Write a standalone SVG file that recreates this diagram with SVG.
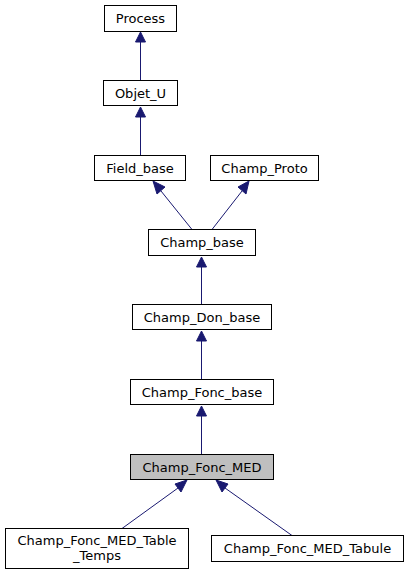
<svg xmlns="http://www.w3.org/2000/svg" width="408" height="575" viewBox="0 0 408 575">
<style>
.n rect{fill:#fff;stroke:#000;stroke-width:1}
.n text{font-family:"DejaVu Sans",sans-serif;font-size:13px;fill:#000;text-anchor:middle}
.e path{fill:none;stroke:#191970;stroke-width:1}
.e polygon{fill:#191970;stroke:#191970;stroke-width:1}
</style>
<rect width="408" height="575" fill="#fff"/>
<g class="e" id="edges">
<path d="M140.5,80.5 V42"/><polygon points="135.5,42 140.5,32 145.5,42"/>
<path d="M140.5,155.5 V117"/><polygon points="135.5,117 140.5,107 145.5,117"/>
<path d="M192,229.5 L161,191"/><polygon points="157,194 153,181 165,187"/>
<path d="M212,229.5 L242,191"/><polygon points="238,187 249,181 246,194"/>
<path d="M201.5,304.5 V267"/><polygon points="196.5,267 201.5,257 206.5,267"/>
<path d="M201.5,379.5 V341"/><polygon points="196.5,341 201.5,331 206.5,341"/>
<path d="M201.5,454.5 V416"/><polygon points="196.5,416 201.5,406 206.5,416"/>
<path d="M122,528.5 L178,488"/><polygon points="175,484 187,480 181,492"/>
<path d="M292,535.5 L225,488"/><polygon points="222,492 216,480 228,484"/>
</g>
<g class="n" id="Process"><rect x="104.5" y="5.5" width="72" height="26"/><text x="140.5" y="22.5">Process</text></g>
<g class="n" id="Objet_U"><rect x="103.5" y="80.5" width="74" height="25"/><text x="140.5" y="97.5">Objet_U</text></g>
<g class="n" id="Field_base"><rect x="94.5" y="155.5" width="91" height="25"/><text x="140" y="172.5">Field_base</text></g>
<g class="n" id="Champ_Proto"><rect x="210.5" y="155.5" width="108" height="25"/><text x="264.5" y="172.5">Champ_Proto</text></g>
<g class="n" id="Champ_base"><rect x="148.5" y="229.5" width="107" height="26"/><text x="202" y="246.5">Champ_base</text></g>
<g class="n" id="Champ_Don_base"><rect x="132.5" y="304.5" width="139" height="25"/><text x="202" y="321.5">Champ_Don_base</text></g>
<g class="n" id="Champ_Fonc_base"><rect x="130.5" y="379.5" width="143" height="25"/><text x="202" y="396.5">Champ_Fonc_base</text></g>
<g class="n" id="Champ_Fonc_MED"><rect x="130.5" y="454.5" width="143" height="25" style="fill:#bfbfbf"/><text x="202" y="471.5">Champ_Fonc_MED</text></g>
<g class="n" id="Champ_Fonc_MED_Table_Temps"><rect x="5.5" y="528.5" width="183" height="40"/><text x="97" y="545">Champ_Fonc_MED_Table</text><text x="97" y="560">_Temps</text></g>
<g class="n" id="Champ_Fonc_MED_Tabule"><rect x="211.5" y="535.5" width="192" height="26"/><text x="307.5" y="552.5">Champ_Fonc_MED_Tabule</text></g>
</svg>
